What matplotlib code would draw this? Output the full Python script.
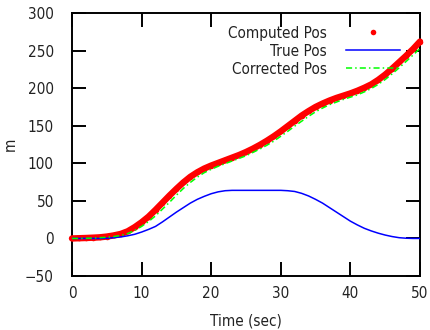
import numpy as np
import matplotlib
matplotlib.use('Agg')
from matplotlib import pyplot as plt
from matplotlib import font_manager as fm

# values, one per second
t = list(range(0, 51))
true_pos = [0, 0, 0, 0, 0, 0.3, 1, 2, 3.5, 5.5,
            8.5, 12, 16, 22, 28.5, 35, 41, 47, 52, 56,
            59.5, 62, 63.5, 64, 64, 64, 64, 64, 64, 64,
            64, 63.5, 62.5, 60, 56.5, 52, 47, 41, 35, 29,
            23, 18, 13.5, 10, 7, 4.5, 2.5, 1, 0.3, 0,
            0]
computed_pos = [0, 0.3, 0.6, 1, 1.5, 2.5, 4, 6, 9.5, 15,
                21.5, 29, 38, 47.5, 57, 66, 74.5, 82, 88, 93,
                97, 100.5, 104, 107.5, 111, 115, 119.5, 124.5, 130, 136,
                142.5, 149.5, 156.5, 163.5, 169.5, 175, 179.5, 183.5, 187, 190,
                193, 196.5, 200.5, 205, 211, 218, 226, 234.5, 243, 252,
                262]
corrected_pos = [0, 0, 0.2, 0.5, 1, 1.5, 2.5, 4, 6.5, 10.5,
                 16, 22.5, 30, 39, 48, 57.5, 66.5, 74.5, 81.5, 87.5,
                 92, 96, 99.5, 103, 106.5, 110, 114.5, 119, 124, 129.5,
                 136, 142.5, 149.5, 156, 162.5, 168.5, 173.5, 178, 181.5, 185,
                 188, 191, 195, 199.5, 205, 211.5, 219, 227, 235.5, 244,
                 253]

xticks = [0, 10, 20, 30, 40, 50]
yticks = [-50, 0, 50, 100, 150, 200, 250, 300]

plt.rcParams['font.family'] = ['DejaVu Sans']
# gnuplot look: condensed sans if the system has it
cond = fm.findfont(fm.FontProperties(family='DejaVu Sans', stretch='condensed'))
if 'Condensed' in cond:
    plt.rcParams['font.stretch'] = 'condensed'
    fs = 11
else:
    fs = 10
txt = '#222222'

fig = plt.figure(figsize=(4.3, 3.3), dpi=100)
ax = fig.add_axes([0.1674, 0.1636, 0.8093, 0.797])

ax.plot(t, computed_pos, '-', color='red', lw=4.6, solid_capstyle='round', clip_on=False, zorder=3)
ax.plot(t, computed_pos, 'o', color='red', ms=4, mew=0, clip_on=False, zorder=3, label='Computed Pos')
ax.plot(t, true_pos, '-', color='#0000ff', lw=1.1, zorder=4, label='True Pos')
ax.plot(t, corrected_pos, color='#00ff00', lw=1.1, dashes=(4, 2, 1, 2), zorder=4, label='Corrected Pos')

ax.set_xlim(0, 50)
ax.set_ylim(-50, 300)
ax.set_xticks(xticks)
ax.set_yticks(yticks)
ax.tick_params(direction='in', length=10, width=1.4, top=True, right=True,
               labelsize=fs, labelcolor=txt, color='black')
ax.tick_params(axis='y', pad=13)
ax.tick_params(axis='x', pad=7)
for s in ax.spines.values():
    s.set_linewidth(1.4)

ax.set_xlabel('Time (sec)', fontsize=fs, color=txt)
ax.set_ylabel('m', fontsize=fs, color=txt)
ax.xaxis.set_label_coords(0.5, -0.141)
ax.yaxis.set_label_coords(-0.155, 0.5)

ax.legend(loc='upper right', bbox_to_anchor=(0.9425, 0.952), frameon=False,
          markerfirst=False, fontsize=fs, labelcolor=txt, handlelength=3.5,
          handletextpad=1.3, labelspacing=0.2, borderpad=0, borderaxespad=0)

fig.savefig('out.png', dpi=100)
